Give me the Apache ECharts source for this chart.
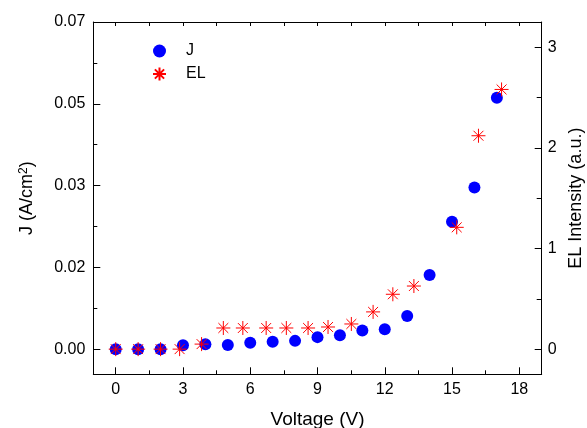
<!DOCTYPE html>
<html>
<head>
<meta charset="utf-8">
<script src="https://cdn.jsdelivr.net/npm/echarts@6/dist/echarts.min.js"></script>
<style>
  html, body { margin: 0; padding: 0; background: #ffffff; }
  #chart { width: 587px; height: 428px; }
</style>
</head>
<body>
<div id="chart"></div>
<script>
// Current density J versus applied voltage
const jVoltage = [0, 1, 2, 3, 4, 5, 6, 7, 8, 9, 10, 11, 12, 13, 14, 15, 16, 17];
const jValues = [0, 0, 0, 0.00086, 0.00107, 0.00092, 0.0014, 0.0016, 0.0018, 0.0026,
                 0.0030, 0.0040, 0.0043, 0.0071, 0.0159, 0.0273, 0.0346, 0.0538];

// Electroluminescence intensity versus applied voltage
const elVoltage = [0, 1, 2, 2.85, 3.83, 4.80, 5.67, 6.71, 7.61, 8.58, 9.47, 10.51,
                   11.48, 12.36, 13.30, 15.21, 16.18, 17.21];
const elValues = [0, 0, 0, 0, 0.05, 0.21, 0.21, 0.21, 0.21, 0.21, 0.22, 0.25,
                  0.37, 0.545, 0.627, 1.21, 2.12, 2.58];

// Tick positions and labels
const xTicks = [0, 3, 6, 9, 12, 15, 18];
const xMinorTicks = [1.5, 4.5, 7.5, 10.5, 13.5, 16.5];
const xTopTicks = [0, 1.5, 3, 4.5, 6, 7.5, 9, 10.5, 12, 13.5, 15, 16.5, 18];
const jTicks = [0, 0.0175, 0.035, 0.0525, 0.07];
const jTickLabels = ['0.00', '0.02', '0.03', '0.05', '0.07'];
const jMinorTicks = [0.00875, 0.02625, 0.04375, 0.06125];
const elTicks = [0, 1, 2, 3];
const elTickLabels = ['0', '1', '2', '3'];
const elMinorTicks = [0.5, 1.5, 2.5];

const FONT = '"Liberation Sans", Arial, sans-serif';
const INK = '#000000';
const X_RANGE = [-1, 19];
const J_RANGE = [-0.00535, 0.07];
const EL_RANGE = [-0.25, 3.25];

const asterisk = 'path://M10,0L10,20M0,10L20,10M2.93,2.93L17.07,17.07M2.93,17.07L17.07,2.93';

function tickOnlyAxis(base, ticks, len, showLine) {
  return Object.assign({
    type: 'value',
    axisLine: { show: showLine, onZero: false, lineStyle: { color: INK, width: 1 } },
    axisTick: { show: true, inside: true, length: len, customValues: ticks,
                lineStyle: { color: INK, width: 1 } },
    axisLabel: { show: false },
    splitLine: { show: false }
  }, base);
}

function labelFor(values, labels) {
  return function (v) {
    const i = values.findIndex(t => Math.abs(t - v) < 1e-9);
    return i >= 0 ? labels[i] : '';
  };
}

const chart = echarts.init(document.getElementById('chart'), null, { renderer: 'canvas' });

chart.setOption({
  animation: false,
  backgroundColor: '#ffffff',
  textStyle: { fontFamily: FONT, color: INK },
  grid: { left: 93.3, right: 45.3, top: 22, bottom: 53.7, containLabel: false, outerBoundsMode: 'none' },
  legend: {
    orient: 'vertical',
    left: 147,
    top: 38,
    itemWidth: 13,
    itemHeight: 13,
    itemGap: 7,
    textStyle: { fontFamily: FONT, fontSize: 16, color: INK, padding: [0, 0, 0, 15] },
    data: [
      { name: 'J', icon: 'circle' },
      { name: 'EL', icon: asterisk }
    ]
  },
  xAxis: [
    {
      type: 'value', position: 'bottom', min: X_RANGE[0], max: X_RANGE[1],
      name: 'Voltage (V)', nameLocation: 'middle', nameGap: 36,
      nameTextStyle: { fontFamily: FONT, fontSize: 19, color: INK },
      axisLine: { show: true, onZero: false, lineStyle: { color: INK, width: 1 } },
      axisTick: { show: true, inside: true, length: 7, customValues: xTicks,
                  lineStyle: { color: INK, width: 1 } },
      axisLabel: { show: true, customValues: xTicks, margin: 7,
                   fontFamily: FONT, fontSize: 16, color: INK },
      splitLine: { show: false }
    },
    tickOnlyAxis({ position: 'bottom', min: X_RANGE[0], max: X_RANGE[1] }, xMinorTicks, 4, false),
    tickOnlyAxis({ position: 'top', min: X_RANGE[0], max: X_RANGE[1] }, xTopTicks, 4, true)
  ],
  yAxis: [
    {
      type: 'value', position: 'left', min: J_RANGE[0], max: J_RANGE[1],
      name: 'J (A/cm{sup|2})', nameLocation: 'middle', nameGap: 56, nameRotate: 90,
      nameTextStyle: {
        fontFamily: FONT, fontSize: 18, color: INK,
        rich: { sup: { fontFamily: FONT, fontSize: 12, color: INK, padding: [0, 0, 8, 0] } }
      },
      axisLine: { show: true, onZero: false, lineStyle: { color: INK, width: 1 } },
      axisTick: { show: true, inside: true, length: 7, customValues: jTicks,
                  lineStyle: { color: INK, width: 1 } },
      axisLabel: { show: true, customValues: jTicks, margin: 8,
                   formatter: labelFor(jTicks, jTickLabels),
                   fontFamily: FONT, fontSize: 16, color: INK },
      splitLine: { show: false }
    },
    {
      type: 'value', position: 'right', min: EL_RANGE[0], max: EL_RANGE[1],
      name: 'EL Intensity (a.u.)', nameLocation: 'middle', nameGap: 25, nameRotate: 90,
      nameTextStyle: { fontFamily: FONT, fontSize: 18, color: INK },
      axisLine: { show: true, onZero: false, lineStyle: { color: INK, width: 1 } },
      axisTick: { show: true, inside: true, length: 7, customValues: elTicks,
                  lineStyle: { color: INK, width: 1 } },
      axisLabel: { show: true, customValues: elTicks, margin: 6,
                   formatter: labelFor(elTicks, elTickLabels),
                   fontFamily: FONT, fontSize: 16, color: INK },
      splitLine: { show: false }
    },
    tickOnlyAxis({ position: 'left', min: J_RANGE[0], max: J_RANGE[1] }, jMinorTicks, 4, false),
    tickOnlyAxis({ position: 'right', min: EL_RANGE[0], max: EL_RANGE[1] }, elMinorTicks, 5, false)
  ],
  series: [
    {
      name: 'J',
      type: 'scatter',
      xAxisIndex: 0,
      yAxisIndex: 0,
      symbol: 'circle',
      symbolSize: 12,
      itemStyle: { color: '#0000ff', opacity: 1 },
      data: jVoltage.map((v, i) => [v, jValues[i]]),
      z: 2
    },
    {
      name: 'EL',
      type: 'scatter',
      xAxisIndex: 0,
      yAxisIndex: 1,
      symbol: asterisk,
      symbolSize: 14,
      itemStyle: { color: 'rgba(255,0,0,0)', borderColor: '#ff0000', borderWidth: 1, opacity: 1 },
      data: elVoltage.map((v, i) => [v, elValues[i]]),
      z: 3
    }
  ]
});
</script>
</body>
</html>
